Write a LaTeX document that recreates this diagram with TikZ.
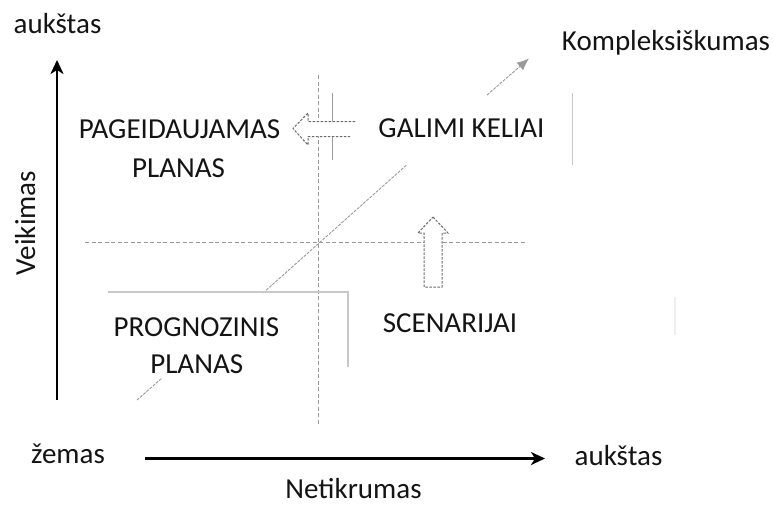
\documentclass[tikz,border=0pt]{standalone}
\usepackage{fontspec}
\setmainfont{Carlito}
\usetikzlibrary{arrows.meta}
\definecolor{txt}{HTML}{141414}
\definecolor{axisdash}{HTML}{9A9A9A}
\definecolor{lightline}{HTML}{C8C8C8}
\definecolor{arrowdash}{HTML}{6A6A6A}
\tikzset{
  lbl/.style={inner sep=0pt, anchor=base, text=txt, font=\fontsize{29}{34}\selectfont},
  mainaxis/.style={line width=2.9pt, black, -{Stealth[length=14pt,width=13pt,inset=4pt]}},
  guide/.style={axisdash, line width=0.8pt, dash pattern=on 4pt off 2.5pt},
  diag/.style={axisdash, line width=0.9pt, dash pattern=on 3pt off 1.2pt},
  softline/.style={lightline, line width=2pt},
  hollowarrow/.style={arrowdash, line width=1pt, dash pattern=on 2.5pt off 1.5pt},
}
\begin{document}
\begin{tikzpicture}[x={(1pt,0)}, y={(0,-1pt)}]
\useasboundingbox (0,0) rectangle (774,506);
% coordinates
\coordinate (vbot) at (57,400);
\coordinate (vtop) at (57,60);
\coordinate (hleft) at (145,458.5);
\coordinate (hright) at (545,458.5);
\coordinate (gl) at (85,242);
\coordinate (gr) at (527,242);
\coordinate (gt) at (318,75);
\coordinate (gb) at (318,425);
\coordinate (d0) at (137,400);
\coordinate (d1) at (161.7,378.3);
\coordinate (d2) at (263,293);
\coordinate (d3) at (406.6,165);
\coordinate (d4) at (487,95);
\coordinate (d5) at (529,58.5);
\coordinate (la) at (108,292);
\coordinate (lb) at (348,292);
\coordinate (lc) at (348,367);
\coordinate (ra) at (572.5,93);
\coordinate (rb) at (572.5,165);
\coordinate (fa) at (675,297);
\coordinate (fb) at (675,335);
\coordinate (ma) at (332,93);
\coordinate (mb) at (332,160);

% guide lines
\draw[guide] (gl) -- (gr);
\draw[guide] (gt) -- (gb);
% diagonal
\draw[diag] (d0) -- (d1);
\draw[diag] (d2) -- (d3);
\draw[diag, -{Latex[length=12pt,width=10pt]}] (d4) -- (d5);
% light solid lines
\draw[softline] (la) -- (lb) -- (lc);
\draw[lightline, line width=1.6pt] (ra) -- (rb);
\draw[black!6, line width=1.5pt] (fa) -- (fb);
\draw[axisdash, line width=1pt] (ma) -- (mb);

% left hollow arrow
\fill[white] (293,128.5) -- (308,113) -- (308,121.7) -- (355,121.7) -- (355,136.5) -- (308,136.5) -- (308,145) -- cycle;
\draw[hollowarrow] (355,121.7) -- (308,121.7) -- (308,113) -- (293,128.5) -- (308,145) -- (308,136.5) -- (350,136.5);
% up hollow arrow
\filldraw[hollowarrow, fill=white] (433,217) -- (448,233) -- (442,233) -- (442,287) -- (424,287) -- (424,233) -- (418,233) -- cycle;

% main axes
\draw[mainaxis] (vbot) -- (vtop);
\draw[mainaxis] (hleft) -- (hright);

% labels
\node[lbl] (ytop) at (57.5,33) {aukštas};
\node[lbl, rotate=90] (ylab) at (35,223) {Veikimas};
\node[lbl] (komp) at (666,50) {Kompleksiškumas};
\node[lbl] (pag1) at (179.5,138) {PAGEIDAUJAMAS};
\node[lbl] (pag2) at (178.5,177) {PLANAS};
\node[lbl] (gal) at (461.5,137) {GALIMI KELIAI};
\node[lbl] (scen) at (450,332) {SCENARIJAI};
\node[lbl] (prog1) at (196.5,336.7) {PROGNOZINIS};
\node[lbl] (prog2) at (196.7,373) {PLANAS};
\node[lbl] (zem) at (68,463) {žemas};
\node[lbl] (xright) at (618.5,465) {aukštas};
\node[lbl] (xlab) at (353.5,498) {Netikrumas};
\end{tikzpicture}
\end{document}
